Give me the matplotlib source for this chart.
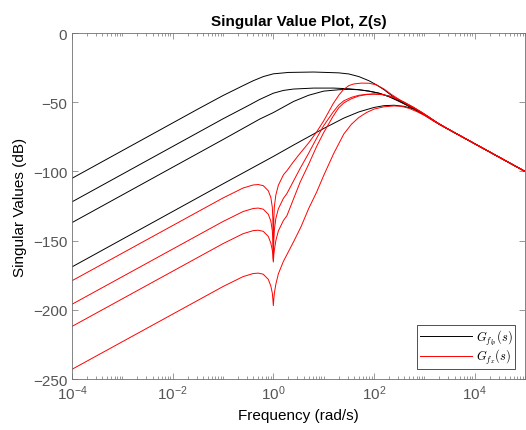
import matplotlib.pyplot as plt
import numpy as np
from matplotlib.ticker import FixedLocator, LogLocator, NullFormatter

plt.rcParams['font.family'] = ['Liberation Sans', 'DejaVu Sans']
plt.rcParams['mathtext.fontset'] = 'custom'
plt.rcParams['mathtext.rm'] = 'Liberation Sans'
plt.rcParams['mathtext.it'] = 'Liberation Sans:italic'

# log10(frequency in rad/s) and singular values in dB
lp1_logw = [-4, -1.5, -1.0, -0.6, -0.4, -0.2, 0, 0.3, 0.8, 1.3, 1.5, 1.7, 1.9, 2.05, 2.2,
            2.38, 2.55, 2.72, 2.9, 3.1, 3.3, 3.5, 4, 5]
lp1_db = [-105, -55, -45.2, -38, -34.5, -31.5, -29.5, -28.5, -28.2, -28.8, -29.6, -31.5,
          -34.5, -37.5, -41, -46, -50, -53.5, -57, -61, -66, -70, -80, -100]

lp2_logw = [-4, -1.0, -0.5, -0.27, 0, 0.2, 0.4, 0.8, 1.2, 1.5, 1.7, 1.9, 2.1, 2.3, 2.5,
            2.7, 2.9, 3.1, 3.3, 3.5, 4, 5]
lp2_db = [-122, -62, -52.5, -48, -43.5, -41.5, -40.5, -39.8, -39.8, -40.3, -41, -42,
          -43.5, -46, -49, -52.5, -56.5, -61.2, -66, -70, -80, -100]

lp3_logw = [-4, -1.0, -0.27, 0, 0.4, 0.7, 1.0, 1.3, 1.5, 1.7, 1.9, 2.1, 2.3, 2.5, 2.7,
            2.9, 3.1, 3.3, 3.5, 4, 5]
lp3_db = [-137, -77, -62.2, -57.5, -49.5, -45, -42, -41, -40.7, -41, -42, -43.5, -46,
          -49.5, -53, -57, -61.5, -66, -70, -80, -100]

lp4_logw = [-4, -1.0, 0, 0.4, 1.0, 1.4, 1.7, 2.0, 2.2, 2.4, 2.6, 2.8, 3.0, 3.2, 3.5, 4, 5]
lp4_db = [-169, -109, -89.2, -81, -69, -61.5, -57, -53.8, -52.5, -52.2, -53, -55, -59,
          -63.8, -70, -80, -100]

x1_logw = [-4, -1.0, -0.6, -0.4, -0.3, -0.2, -0.1, -0.05, -0.02, -0.01, 0, 0.01, 0.02,
           0.05, 0.1, 0.2, 0.27, 0.4, 0.53, 0.7, 0.86, 1.0, 1.19, 1.3, 1.39, 1.5, 1.6,
           1.75, 1.9, 2.05, 2.2, 2.35, 2.5, 2.7, 2.9, 3.1, 3.3, 3.5, 4, 5]
x1_db = [-179, -119.2, -112, -109.8, -109.5, -110.3, -114, -118.8, -126, -134, -163, -134,
         -125.5, -117, -110, -102.5, -99.5, -93, -87, -79.5, -71.5, -63.5, -51, -45, -41,
         -38, -36.8, -36.2, -36.3, -37.5, -40.5, -44.5, -48, -52.5, -56.5, -61, -66, -70,
         -80, -100]

x2_logw = [-4, -1.0, -0.6, -0.4, -0.3, -0.2, -0.1, -0.05, -0.02, -0.01, 0, 0.01, 0.02,
           0.05, 0.1, 0.2, 0.27, 0.4, 0.53, 0.7, 0.86, 1.0, 1.19, 1.3, 1.4, 1.55, 1.7,
           1.85, 2.0, 2.15, 2.3, 2.45, 2.6, 2.8, 3.0, 3.2, 3.5, 4, 5]
x2_db = [-196, -136.2, -129, -126.8, -126.5, -127.3, -131, -135.8, -143, -149, -164.5,
         -149, -142.5, -134, -127, -119.5, -116, -107, -98, -87, -76, -67, -57, -52, -49,
         -46.5, -45, -44.3, -44, -44.3, -45.5, -47.5, -50, -54, -58.5, -63.5, -70, -80,
         -100]

x3_logw = [-4, -1.0, -0.6, -0.4, -0.3, -0.2, -0.1, -0.05, -0.02, -0.01, 0, 0.01, 0.02,
           0.05, 0.1, 0.2, 0.27, 0.4, 0.53, 0.7, 0.86, 1.0, 1.19, 1.3, 1.4, 1.55, 1.7,
           1.85, 2.0, 2.15, 2.3, 2.45, 2.6, 2.8, 3.0, 3.2, 3.5, 4, 5]
x3_db = [-212, -152.2, -145, -142.8, -142.5, -143.3, -147, -151.8, -157, -160, -165.5,
         -160, -157, -150, -143, -135.5, -132, -120, -108, -95, -82, -72, -60, -54, -50.5,
         -47.5, -45.5, -44.5, -44.2, -44.5, -45.5, -47.5, -50, -54, -58.5, -63.5, -70,
         -80, -100]

x4_logw = [-4, -1.0, -0.6, -0.4, -0.3, -0.2, -0.1, -0.05, -0.02, -0.01, 0, 0.01, 0.02,
           0.05, 0.1, 0.2, 0.3, 0.4, 0.55, 0.7, 0.86, 1.0, 1.2, 1.4, 1.55, 1.7, 1.85, 2.0,
           2.2, 2.4, 2.55, 2.7, 2.85, 3.0, 3.2, 3.5, 4, 5]
x4_db = [-243, -183.2, -176, -173.8, -173.5, -174.3, -178, -182.8, -188, -192, -197, -192,
         -188, -181.5, -174, -165, -158, -151, -140, -127, -115, -103, -87, -73, -66, -61,
         -57.5, -55, -53.3, -52.7, -53, -54.5, -56.8, -59.5, -64, -70, -80, -100]

lp_curves = [(lp1_logw, lp1_db), (lp2_logw, lp2_db), (lp3_logw, lp3_db), (lp4_logw, lp4_db)]
x_curves = [(x1_logw, x1_db), (x2_logw, x2_db), (x3_logw, x3_db), (x4_logw, x4_db)]

fig = plt.figure(figsize=(5.26, 4.31), dpi=100)
ax = fig.add_axes([72 / 526, 51 / 431, 453 / 526, 346 / 431])

for i, (lw_, db) in enumerate(lp_curves):
    ax.semilogx(10.0 ** np.array(lw_), db, color='k', lw=0.7,
                label=r'$G_{f_{lp}}(s)$' if i == 0 else None)
for i, (lw_, db) in enumerate(x_curves):
    ax.semilogx(10.0 ** np.array(lw_), db, color='r', lw=0.7,
                label=r'$G_{f_{x}}(s)$' if i == 0 else None)

ax.set_xlim(1e-4, 1e5)
ax.set_ylim(-250, 0)
ax.xaxis.set_major_locator(FixedLocator([1e-4, 1e-2, 1e0, 1e2, 1e4]))
ax.xaxis.set_minor_locator(LogLocator(base=10, subs=np.arange(1, 10), numticks=100))
ax.xaxis.set_minor_formatter(NullFormatter())
ax.set_xticklabels(['$10^{-4}$', '$10^{-2}$', '$10^{0}$', '$10^{2}$', '$10^{4}$'])
ax.set_yticks([-250, -200, -150, -100, -50, 0])

ax.tick_params(which='both', direction='in', top=True, right=True, colors='#707070',
               labelcolor='#555555', labelsize=11, width=0.5)
ax.tick_params(which='major', length=4.5)
ax.tick_params(which='minor', length=2.5)
for s in ax.spines.values():
    s.set_color('#707070')
    s.set_linewidth(0.6)

ax.set_xlabel('Frequency (rad/s)', fontsize=11)
ax.set_ylabel('Singular Values (dB)', fontsize=11)
ax.set_title('Singular Value Plot, Z(s)', fontsize=11, fontweight='bold')

leg = ax.legend(loc='lower right', fontsize=9, frameon=True, fancybox=False,
                handlelength=4.2, borderaxespad=0.8, borderpad=0.2, labelspacing=0.05,
                handletextpad=0.3)
leg.get_frame().set_edgecolor('k')
leg.get_frame().set_linewidth(0.6)
for t in leg.get_texts():
    t.set_math_fontfamily('cm')

fig.savefig('out.png', dpi=100)
